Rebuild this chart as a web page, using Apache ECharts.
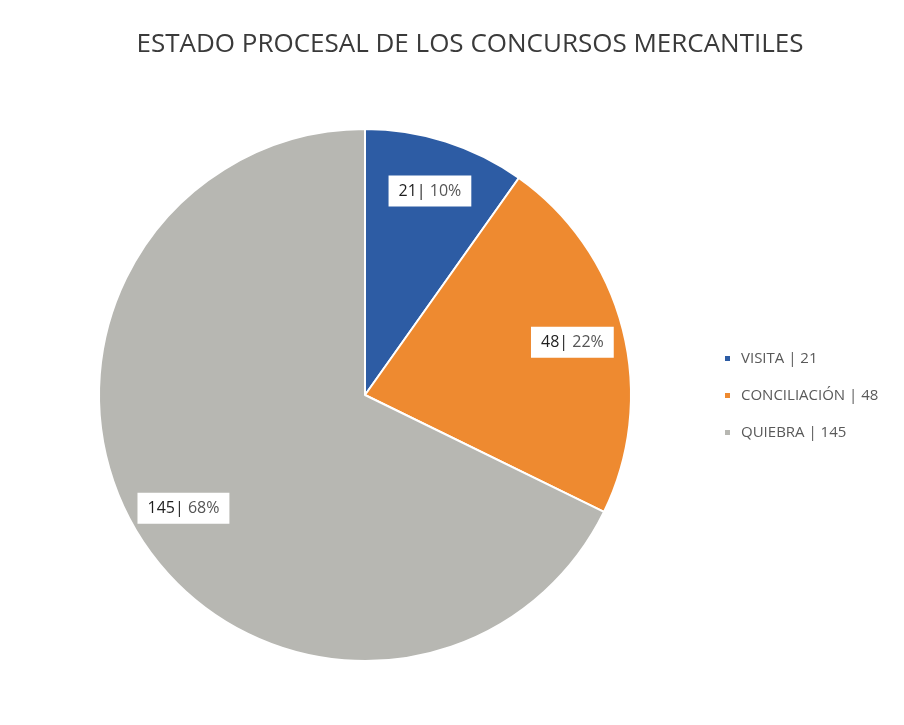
<!DOCTYPE html>
<html>
<head>
<meta charset="utf-8">
<script src="https://cdn.jsdelivr.net/npm/echarts@6/dist/echarts.min.js"></script>
<style>
  html, body { margin: 0; padding: 0; background: #fff; }
  #chart { width: 904px; height: 725px; }
</style>
</head>
<body>
<div id="chart"></div>
<script>
// datos del gráfico
const categorias = ['VISITA', 'CONCILIACIÓN', 'QUIEBRA']
const valores = [21, 48, 145]
const colores = ['#2d5ca4', '#ee8a30', '#b7b7b2']

const datos = categorias.map((name, i) => ({ name: name, value: valores[i] }))
const total = valores.reduce((a, b) => a + b, 0)

const myChart = echarts.init(document.getElementById('chart'))
myChart.setOption({
  backgroundColor: '#fff',
  color: colores,
  title: {
    text: 'ESTADO PROCESAL DE LOS CONCURSOS MERCANTILES',
    left: 465,
    textAlign: 'center',
    top: 27,
    textStyle: {
      fontFamily: 'Open Sans',
      fontSize: 26,
      fontWeight: 'normal',
      color: '#3a3a3a'
    }
  },
  legend: {
    data: categorias,
    orient: 'vertical',
    left: 718,
    top: 346,
    itemWidth: 7,
    itemHeight: 7,
    itemGap: 22,
    icon: 'rect',
    textStyle: {
      fontFamily: 'Open Sans',
      fontSize: 15,
      color: '#595959',
      padding: [0, 0, 0, 5]
    },
    formatter: name => name + ' | ' + valores[categorias.indexOf(name)]
  },
  series: [
    {
      type: 'pie',
      center: [365, 395],
      radius: [0, 266],
      clockwise: true,
      startAngle: 90,
      silent: true,
      itemStyle: { borderColor: '#fff', borderWidth: 2 },
      label: { show: false },
      labelLine: { show: false },
      data: datos
    },
    {
      // serie transparente solo para colocar las etiquetas más afuera
      type: 'pie',
      center: [365, 395],
      radius: [156, 266],
      startAngle: 90,
      silent: true,
      legendHoverLink: false,
      itemStyle: { color: 'rgba(0,0,0,0)' },
      label: {
        show: true,
        position: 'inside',
        backgroundColor: '#fff',
        padding: [8, 10, 7, 10],
        formatter: p => '{a|' + p.value + '}{b|| }{c|' + Math.round(p.value / total * 100) + '%}',
        rich: {
          a: { fontFamily: 'Open Sans', fontSize: 16, color: '#1e1e1e' },
          b: { fontFamily: 'Open Sans', fontSize: 16, color: '#1e1e1e' },
          c: { fontFamily: 'Open Sans', fontSize: 16, color: '#555' }
        }
      },
      labelLine: { show: false },
      data: datos.map(d => ({ name: d.name + ' ', value: d.value }))
    }
  ]
})
</script>
</body>
</html>
